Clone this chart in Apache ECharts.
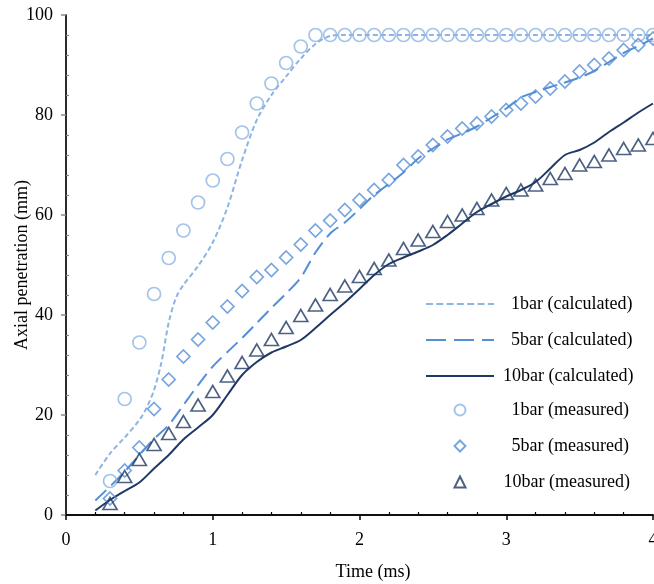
<!DOCTYPE html>
<html>
<head>
<meta charset="utf-8">
<script src="https://cdn.jsdelivr.net/npm/echarts@6/dist/echarts.min.js"></script>
<style>html,body{margin:0;padding:0;background:#fff;}#c{width:654px;height:584px;}</style>
</head>
<body>
<div id="c"></div>
<script>
// ---- data ----
const measTime = [0.3,0.4,0.5,0.6,0.7,0.8,0.9,1.0,1.1,1.2,1.3,1.4,1.5,1.6,1.7,1.8,1.9,2.0,2.1,2.2,2.3,2.4,2.5,2.6,2.7,2.8,2.9,3.0,3.1,3.2,3.3,3.4,3.5,3.6,3.7,3.8,3.9,4.0];
const meas1 = [6.8,23.2,34.5,44.2,51.4,56.9,62.5,66.9,71.2,76.5,82.3,86.3,90.4,93.7,96,96,96,96,96,96,96,96,96,96,96,96,96,96,96,96,96,96,96,96,96,96,96,96];
const meas5 = [3.3,8.9,13.5,21.2,27.1,31.7,35.1,38.5,41.7,44.8,47.6,49.0,51.5,54.1,56.9,58.9,61,63,65,67,70,71.7,74,75.7,77.3,78.3,79.7,81,82.3,83.7,85.3,86.7,88.7,90,91.3,93,94,95.3];
const meas10 = [2.3,7.7,11.1,14.1,16.3,18.7,22,24.7,27.8,30.5,33,35.1,37.5,39.9,42,44.1,45.8,47.7,49.3,51,53.3,55,56.7,58.7,60,61.3,63,64.3,65,66,67.3,68.3,70,70.7,72,73.3,74,75.3];

const calc1Time = [0.2,0.3,0.4,0.5,0.55,0.6,0.65,0.7,0.75,0.8,0.9,1.0,1.1,1.2,1.3,1.4,1.5,1.6,1.7,1.8,1.9,2.0,2.5,3.0,3.5,4.0];
const calc1 = [8,12.3,15.5,19,21.5,25,30.5,38.5,43.5,46,49.8,54.5,61.5,71,79,84,87.7,91.3,94.2,95.8,96,96,96,96,96,96];
const calcTime = [0.2,0.3,0.4,0.5,0.6,0.7,0.8,0.9,1.0,1.1,1.2,1.3,1.4,1.5,1.6,1.7,1.8,1.9,2.0,2.1,2.2,2.3,2.4,2.5,2.6,2.7,2.8,2.9,3.0,3.1,3.2,3.3,3.4,3.5,3.6,3.7,3.8,3.9,4.0];
const calc5 = [2.9,5.7,8.7,12,15.2,18,22,26,29.7,32.6,35.4,38.4,41.4,44.3,47.5,52.5,56.3,58.5,61.2,64,66.2,68.5,71.3,73.3,75.1,76.3,77.7,79.5,81.3,83.5,84.6,85.6,86.5,87.5,88.8,90.6,92.4,93.8,95.3];
const calc10 = [0.9,3,4.8,6.5,9.3,12,15.1,17.5,20,24,28,30.6,32.5,33.7,35,37.4,40,42.5,45.2,48,50.2,51.5,52.7,54,56,58.3,60.6,62.2,63.7,65,66.6,69.3,72,73,74.5,76.6,78.5,80.5,82.3];

const xTicks = [0,1,2,3,4];
const yTicks = [0,20,40,60,80,100];
const names = ['1bar (calculated)','5bar (calculated)','10bar (calculated)','1bar (measured)','5bar (measured)','10bar (measured)'];

const C1 = '#8DB4E2', C5 = '#558ED5', C10 = '#1F3864';
const FONT = 'Liberation Serif';

function pairs(t, v) { return t.map((x, i) => [x, v[i]]); }

const chart = echarts.init(document.getElementById('c'), null, {renderer: 'canvas'});
const axisText = {fontFamily: FONT, fontSize: 18, color: '#000'};
const legendText = {fontFamily: FONT, fontSize: 18, color: '#000', lineHeight: 20};

const option = {
  animation: false,
  backgroundColor: '#fff',
  grid: {left: 66, top: 15, right: 1, bottom: 69, containLabel: false, outerBoundsMode: 'none'},
  xAxis: [
    {type: 'value', position: 'bottom', min: xTicks[0], max: xTicks[xTicks.length-1], interval: 1,
     axisLine: {show: true, lineStyle: {color: '#000', width: 1.5}},
     axisTick: {show: true, inside: false, length: 5, lineStyle: {color: '#000', width: 1.5}},
     minorTick: {show: false},
     splitLine: {show: false},
     axisLabel: Object.assign({margin: 16, showMaxLabel: true, hideOverlap: false}, axisText)},
    {type: 'value', position: 'bottom', min: 0, max: 4, interval: 1,
     axisLine: {show: false}, axisLabel: {show: false}, splitLine: {show: false},
     axisTick: {show: true, inside: true, length: 0},
     minorTick: {show: true, splitNumber: 5, length: 3, lineStyle: {color: '#000', width: 1.2}}},
    {type: 'value', position: 'top', min: 0, max: 4, interval: 1,
     axisLine: {show: true, lineStyle: {color: '#000', width: 1.5}},
     axisTick: {show: false}, axisLabel: {show: false}, splitLine: {show: false}}
  ],
  yAxis: [
    {type: 'value', position: 'left', min: yTicks[0], max: yTicks[yTicks.length-1], interval: 20,
     name: 'Axial penetration (mm)', nameLocation: 'middle', nameGap: 35, nameRotate: 90, nameMoveOverlap: false,
     nameTextStyle: {fontFamily: FONT, fontSize: 18, color: '#000'},
     axisLine: {show: true, lineStyle: {color: '#888', width: 1.5}},
     axisTick: {show: true, inside: false, length: 5, lineStyle: {color: '#888', width: 1.5}},
     minorTick: {show: false},
     splitLine: {show: false},
     axisLabel: Object.assign({margin: 13}, axisText)},
    {type: 'value', position: 'left', min: 0, max: 100, interval: 20,
     axisLine: {show: false}, axisLabel: {show: false}, splitLine: {show: false},
     axisTick: {show: true, inside: true, length: 0},
     minorTick: {show: true, splitNumber: 5, length: 3, lineStyle: {color: '#888', width: 1.2}}},
    {type: 'value', position: 'right', min: 0, max: 100, interval: 20,
     axisLine: {show: true, lineStyle: {color: '#000', width: 1.5}},
     axisTick: {show: false}, axisLabel: {show: false}, splitLine: {show: false}}
  ],
  legend: [
    {
      orient: 'vertical',
      left: 420, top: 283,
      padding: [11, 25, 10, 5],
      backgroundColor: '#fff',
      itemWidth: 68, itemHeight: 11, itemGap: 16,
      textStyle: Object.assign({padding: [0, 0, 0, 12]}, legendText),
      data: [
        {name: names[0], itemStyle: {opacity: 0}, lineStyle: {type: [7, 3.3]}},
        {name: names[1], itemStyle: {opacity: 0}, lineStyle: {type: [20, 8]}},
        {name: names[2], itemStyle: {opacity: 0}, textStyle: {padding: [0, 0, 0, 4]}}
      ]
    },
    {
      orient: 'vertical',
      left: 448.5, top: 389,
      padding: [11, 25, 10, 5],
      backgroundColor: '#fff',
      itemWidth: 11, itemHeight: 11, itemGap: 16,
      textStyle: Object.assign({padding: [0, 0, 0, 41]}, legendText),
      data: [
        {name: names[3]},
        {name: names[4]},
        {name: names[5], textStyle: {padding: [0, 0, 0, 33]}}
      ]
    }
  ],
  graphic: [
    {type: 'text', x: 373, y: 572, style: {text: 'Time (ms)', font: '18px "Liberation Serif"', fill: '#000', align: 'center', verticalAlign: 'middle'}}
  ],
  series: [
    {name: names[0], type: 'line', data: pairs(calc1Time, calc1), smooth: 0.3, symbol: 'none',
     lineStyle: {color: C1, width: 2, type: [5, 3]}, itemStyle: {color: C1}, z: 2},
    {name: names[1], type: 'line', data: pairs(calcTime, calc5), smooth: 0.3, symbol: 'none',
     lineStyle: {color: C5, width: 2, type: [15, 7]}, itemStyle: {color: C5}, z: 2},
    {name: names[2], type: 'line', data: pairs(calcTime, calc10), smooth: 0.3, symbol: 'none',
     lineStyle: {color: C10, width: 2}, itemStyle: {color: C10}, z: 2},
    {name: names[3], type: 'scatter', data: pairs(measTime, meas1), symbol: 'circle', symbolSize: 13,
     itemStyle: {color: 'rgba(0,0,0,0)', borderColor: C1, borderWidth: 1.7}, z: 3},
    {name: names[4], type: 'scatter', data: pairs(measTime, meas5), symbol: 'diamond', symbolSize: 13,
     itemStyle: {color: 'rgba(0,0,0,0)', borderColor: C5, borderWidth: 1.7}, z: 3},
    {name: names[5], type: 'scatter', data: pairs(measTime, meas10), symbol: 'triangle', symbolSize: [14, 12],
     itemStyle: {color: 'rgba(0,0,0,0)', borderColor: C10, borderWidth: 1.7}, z: 3}
  ]
};
chart.setOption(option);
</script>
</body>
</html>
